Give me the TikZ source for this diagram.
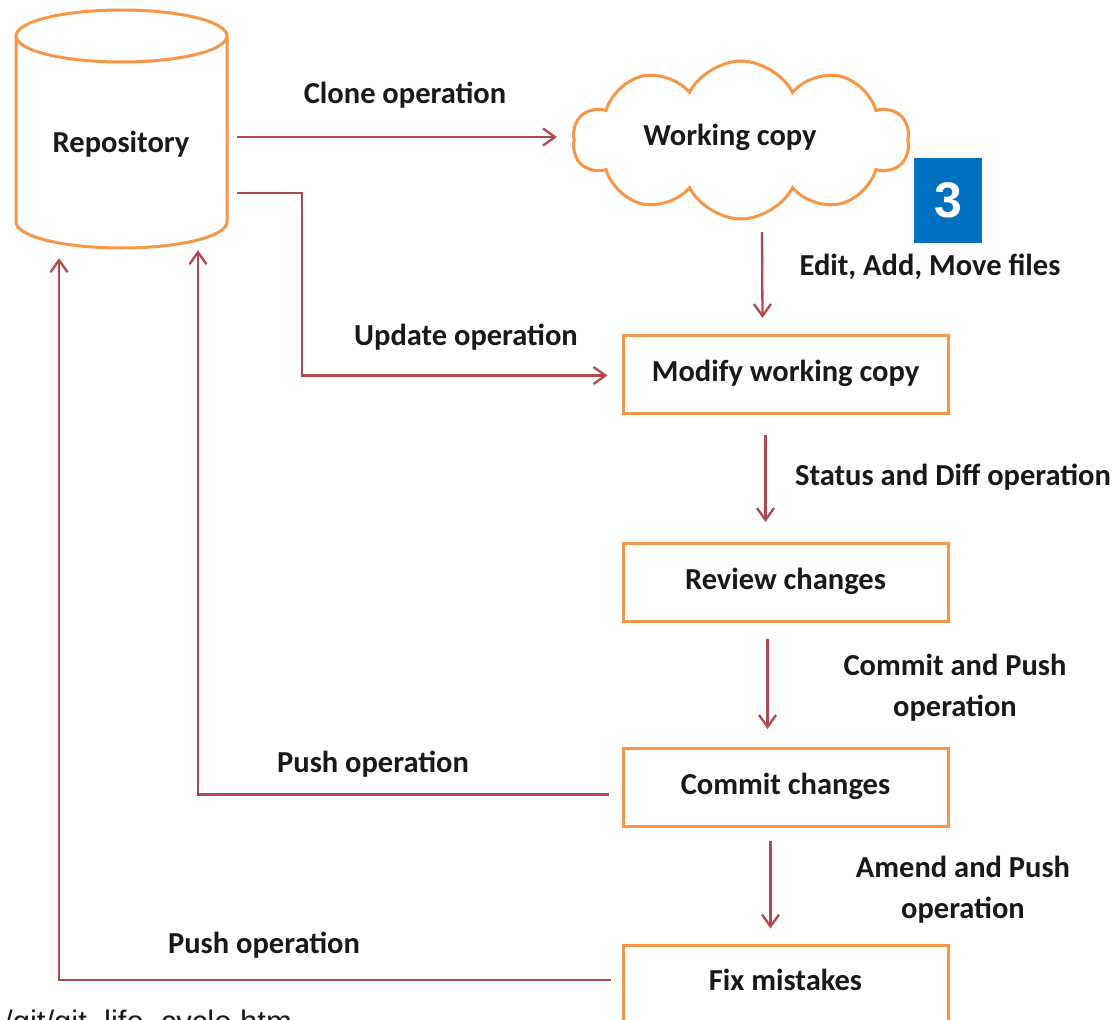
\documentclass[tikz,border=0pt]{standalone}
\usepackage{fontspec}
\setmainfont{Carlito}
\newfontfamily\digitfont{Liberation Sans}
\usetikzlibrary{arrows.meta,shapes.symbols,calc}
\definecolor{boxorange}{RGB}{247,150,70}
\definecolor{flowred}{RGB}{176,72,78}
\definecolor{tagblue}{RGB}{0,112,192}
\definecolor{ink}{RGB}{25,25,25}
\begin{document}
\begin{tikzpicture}[x=1pt,y=-1pt,
  lbl/.style={font=\fontsize{30.5}{41}\selectfont\bfseries, text=ink, inner sep=0pt,
    text height=0.7em, text depth=0.2em},
  stepbox/.style={lbl, text height=1.55em, draw=boxorange, line width=3pt, fill=white,
    minimum width=325pt, minimum height=78pt},
  flow/.style={draw=flowred, line width=2.3pt,
    -{Straight Barb[length=12pt,width=17pt]}},
]
\useasboundingbox (0,0) rectangle (1120,1020);
\clip (0,0) rectangle (1120,1020);
\fill[white] (0,0) rectangle (1120,1020);

% repository cylinder
\draw[boxorange, line width=3pt, fill=white]
  (16,36) -- (16,222) arc[start angle=180, end angle=360, x radius=105.5pt, y radius=26pt]
  -- (227,36);
\draw[boxorange, line width=3pt, fill=white] (121.5,36) ellipse [x radius=105.5pt, y radius=26pt];
\node[minimum width=211pt, minimum height=238pt, inner sep=0pt] (repo) at (121.5,129) {};
\node[lbl] (repotext) at (121,150) {Repository};

% working copy cloud
\node[cloud, cloud puffs=10, cloud puff arc=125, cloud ignores aspect,
  draw=boxorange, line width=3pt, fill=white,
  minimum width=336pt, minimum height=158pt] (wc) at (741,140) {};
\node[lbl] (wctext) at (730,143) {Working copy};

% lifecycle steps
\node[stepbox] (mod) at (785.5,374.5) {Modify working copy};
\node[stepbox] (rev) at (785.5,582.5) {Review changes};
\node[stepbox] (com) at (785.5,787.5) {Commit changes};
\node[stepbox] (fix) at (785.5,984) {Fix mistakes};

% step tag
\node[fill=tagblue, minimum width=68pt, minimum height=85pt, inner sep=0pt,
  text=white, font=\digitfont\bfseries\fontsize{50}{50}\selectfont] (tag) at (948,200.5) {3};

% connectors
\draw[flow] ($(repo.east)+(10,8)$) -- ($(wc.center)+(-184,-3)$);
\draw[flow] ($(repo.east)+(10,64)$) -- ++(65,0) |- ($(mod.west)+(-14,1)$);
\draw[flow] ($(wc.center)+(21,92)$) -- ($(mod.north)+(-23,-16)$);
\draw[flow] ($(mod.south)+(-20,20)$) -- ($(rev.north)+(-20,-20)$);
\draw[flow] ($(rev.south)+(-18,16)$) -- ($(com.north)+(-18,-18)$);
\draw[flow] ($(com.south)+(-15,13)$) -- ($(fix.north)+(-15,-15)$);
\draw[flow] ($(com.west)+(-13,7)$) -| ($(repo.south)+(76.5,2)$);
\draw[flow] ($(fix.west)+(-11,-4)$) -| ($(repo.south)+(-62.5,10)$);

% connector labels
\node[lbl] (lclone) at (405,101) {Clone operation};
\node[lbl] (lupdate) at (466,343) {Update operation};
\node[lbl] (ledit) at (930,273) {Edit, Add, Move files};
\node[lbl] (lstatus) at (953,483) {Status and Diff operation};
\node[lbl, align=center] (lcommit) at (955,714) {Commit and Push\\operation};
\node[lbl, align=center] (lamend) at (963,916) {Amend and Push\\operation};
\node[lbl] (lpush1) at (373,770) {Push operation};
\node[lbl] (lpush2) at (264,951) {Push operation};

% source path at the lower edge
\node[anchor=north west, inner sep=0pt, text=ink,
  font=\digitfont\fontsize{31}{36}\selectfont] (src) at (4,1010) {/git/git\_life\_cycle.htm};
\end{tikzpicture}
\end{document}
